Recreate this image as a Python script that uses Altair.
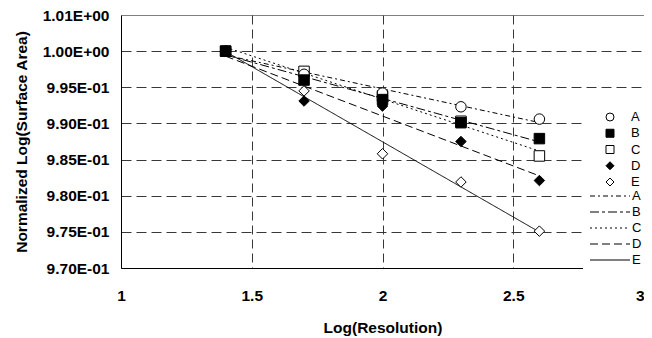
import altair as alt
import pandas as pd

# ---- data ----
x_res = [1.4, 1.7, 2.0, 2.3, 2.6]
series_names = ["A", "B", "C", "D", "E"]
vals_A = [1.0, 0.9968, 0.9942, 0.9923, 0.9906]
vals_B = [1.0, 0.9960, 0.9933, 0.9901, 0.9879]
vals_C = [1.0, 0.9972, 0.9938, 0.9903, 0.9855]
vals_D = [1.0, 0.9931, 0.9924, 0.9875, 0.9821]
vals_E = [1.0, 0.9945, 0.9858, 0.9819, 0.9751]

x_ticks = [1, 1.5, 2, 2.5, 3]
x_tick_labels = ["1", "1.5", "2", "2.5", "3"]
y_ticks = [0.97, 0.975, 0.98, 0.985, 0.99, 0.995, 1.0, 1.005]
y_tick_labels = ["9.70E-01", "9.75E-01", "9.80E-01", "9.85E-01",
                 "9.90E-01", "9.95E-01", "1.00E+00", "1.01E+00"]

values = {"A": vals_A, "B": vals_B, "C": vals_C, "D": vals_D, "E": vals_E}
draw_order = ["E", "D", "C", "A", "B"]

rows = []
for s in draw_order:
    for xv, yv in zip(x_res, values[s]):
        rows.append({"series": s, "x": xv, "y": yv})
df = pd.DataFrame(rows)

shapes = ["circle", "square", "square", "diamond", "diamond"]
fills = ["white", "black", "white", "black", "white"]
strokes = ["black", "black", "black", "black", "black"]
dashes = [[5, 3, 2, 3], [9, 3, 3, 3], [2, 3], [8, 4], [1, 0]]

FONT = "Liberation Sans"

y_expr = "[" + ",".join("'%s'" % l for l in y_tick_labels) + "][round((datum.value - 0.97) / 0.005)]"
x_expr = "[" + ",".join("'%s'" % l for l in x_tick_labels) + "][round((datum.value - 1) / 0.5)]"

x_axis = alt.Axis(
    values=x_ticks, labelExpr=x_expr, title="Log(Resolution)",
    labelFont=FONT, labelFontWeight="bold", labelFontSize=15.5, labelColor="black",
    titleFont=FONT, titleFontWeight="bold", titleFontSize=15.5, titleColor="black",
    ticks=False, labelPadding=20, titlePadding=17, labelFlush=False, labelOverlap=False,
    labelAlign={"condition": {"test": "datum.value >= 3", "value": "right"}, "value": "center"},
    domainColor="black", domainWidth=1,
    grid=True, gridColor="#383838", gridDash=[9, 5], gridWidth=1,
    gridOpacity={"condition": {"test": "datum.value <= 1 || datum.value >= 3", "value": 0}, "value": 1},
)
y_axis = alt.Axis(
    values=y_ticks, labelExpr=y_expr, title="Normalized Log(Surface Area)",
    labelFont=FONT, labelFontWeight="bold", labelFontSize=15.5, labelColor="black",
    titleFont=FONT, titleFontWeight="bold", titleFontSize=15.5, titleColor="black",
    ticks=False, labelPadding=12, titlePadding=13, labelFlush=False, labelOverlap=False,
    domainColor="black", domainWidth=1,
    grid=True, gridColor="#383838", gridDash=[10, 5], gridWidth=1,
    gridOpacity={"condition": {"test": "datum.value >= 1.004 || datum.value <= 0.9701", "value": 0}, "value": 1},
)

x_enc = alt.X("x:Q", scale=alt.Scale(domain=[1, 3], nice=False, zero=False), axis=x_axis)
y_enc = alt.Y("y:Q", scale=alt.Scale(domain=[0.97, 1.005], nice=False, zero=False), axis=y_axis)

leg_sym = alt.Legend(
    title=None, orient="none", legendX=462, legendY=92.5, fillColor="white", padding=3,
    symbolSize=64, symbolStrokeWidth=1,
    symbolOffset=17.5, labelOffset=14.5, labelFont=FONT, labelFontSize=13, labelColor="black",
    rowPadding=2.25, clipHeight=13, zindex=0,
)
leg_line = alt.Legend(
    title=None, orient="none", legendX=462, legendY=171.5, fillColor="white", padding=3,
    symbolType="stroke", symbolSize=1600, symbolStrokeColor="black", symbolStrokeWidth=1,
    symbolOffset=3.5, labelOffset=1.5, labelFont=FONT, labelFontSize=13, labelColor="black",
    rowPadding=2, clipHeight=13, zindex=1,
)

lines = alt.Chart(df).transform_calculate(fit="datum.series").transform_regression(
    "x", "y", groupby=["fit"]
).mark_line(color="black", strokeWidth=1).encode(
    x=x_enc, y=y_enc,
    strokeDash=alt.StrokeDash("fit:N", scale=alt.Scale(range=dashes), legend=leg_line),
)

points = alt.Chart(df).mark_point(filled=True, size=110, strokeWidth=1, opacity=1).encode(
    x=x_enc, y=y_enc,
    shape=alt.Shape("series:N", scale=alt.Scale(range=shapes), legend=leg_sym),
    fill=alt.Fill("series:N", scale=alt.Scale(range=fills), legend=leg_sym),
    stroke=alt.Stroke("series:N", scale=alt.Scale(range=strokes), legend=leg_sym),
)

chart = alt.layer(lines, points).properties(
    width=523, height=253,
    autosize=alt.AutoSizeParams(type="none"),
    padding={"left": 113, "top": 7, "right": 0, "bottom": 68},
    background="white",
).configure_view(stroke="#808080", strokeWidth=1)

chart.save("out.html", embed_options={"renderer": "svg", "actions": False})
